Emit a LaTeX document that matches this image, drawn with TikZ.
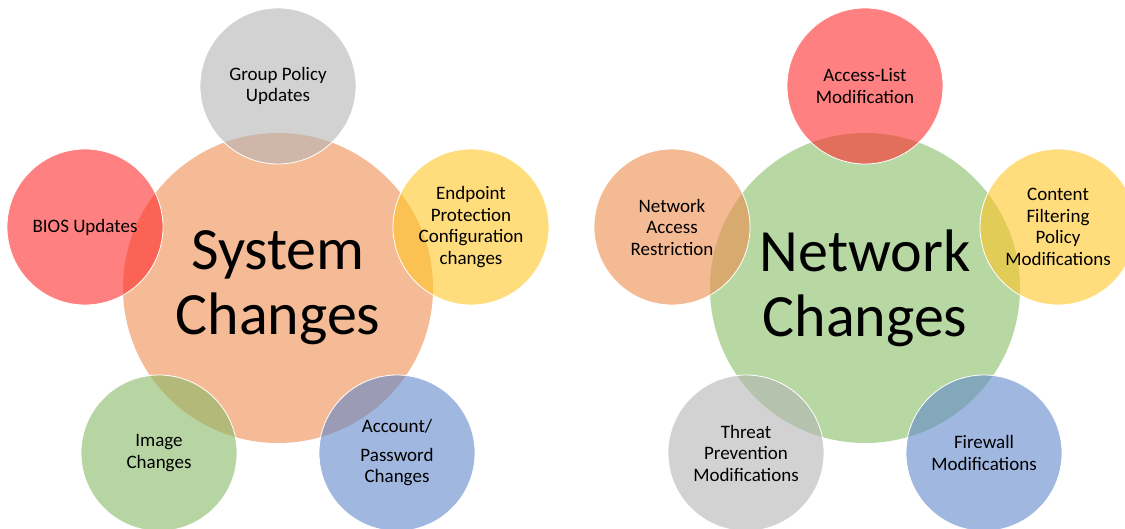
\documentclass[tikz,border=0pt]{standalone}
\usepackage{fontspec}
\setmainfont{Carlito}

% fill colours (small circles are drawn see-through)
\definecolor{hubOrange}{RGB}{245,187,150}
\definecolor{hubGreen}{RGB}{183,215,163}
\definecolor{leafRed}{RGB}{255,43,43}
\definecolor{leafGray}{RGB}{180,180,180}
\definecolor{leafYellow}{RGB}{255,198,38}
\definecolor{leafBlue}{RGB}{97,135,203}
\definecolor{leafGreen}{RGB}{135,185,100}
\definecolor{leafOrange}{RGB}{237,140,77}

\begin{document}
\begin{tikzpicture}[x=1pt,y=-1pt,
  hub/.style={circle,minimum size=310pt,inner sep=0pt,align=center,
    font=\fontsize{60}{65}\selectfont},
  leaf/.style={circle,minimum size=156pt,inner sep=0pt,align=center,
    draw=white,line width=0.8pt,fill opacity=0.6,text opacity=1,
    font=\fontsize{19}{21.5}\selectfont}]
\useasboundingbox (0,0) rectangle (1125,529);

% system side
\node[hub,fill=hubOrange] (sys) at (278,288) {System\\Changes};
\node[leaf,fill=leafGray] (gpo) at (278,86) {Group Policy\\Updates};
\node[leaf,fill=leafRed] (bios) at (85,227) {BIOS Updates};
\node[leaf,fill=leafYellow] (endp) at (471,227) {Endpoint\\Protection\\Configuration\\changes};
\node[leaf,fill=leafGreen] (img) at (159,453) {Image\\Changes};
\node[leaf,fill=leafBlue] (acct) at (397,453) {Account/\\[7pt]Password\\Changes};

% network side
\node[hub,fill=hubGreen] (net) at (865,288) {Network\\Changes};
\node[leaf,fill=leafRed] (acl) at (865,86) {Access-List\\Modification};
\node[leaf,fill=leafOrange] (nar) at (672,227) {Network\\Access\\Restriction};
\node[leaf,fill=leafYellow] (cfp) at (1058,227) {Content\\Filtering\\Policy\\Modifications};
\node[leaf,fill=leafGray] (thr) at (746,453) {Threat\\Prevention\\Modifications};
\node[leaf,fill=leafBlue] (fw) at (984,453) {Firewall\\Modifications};
\end{tikzpicture}
\end{document}
